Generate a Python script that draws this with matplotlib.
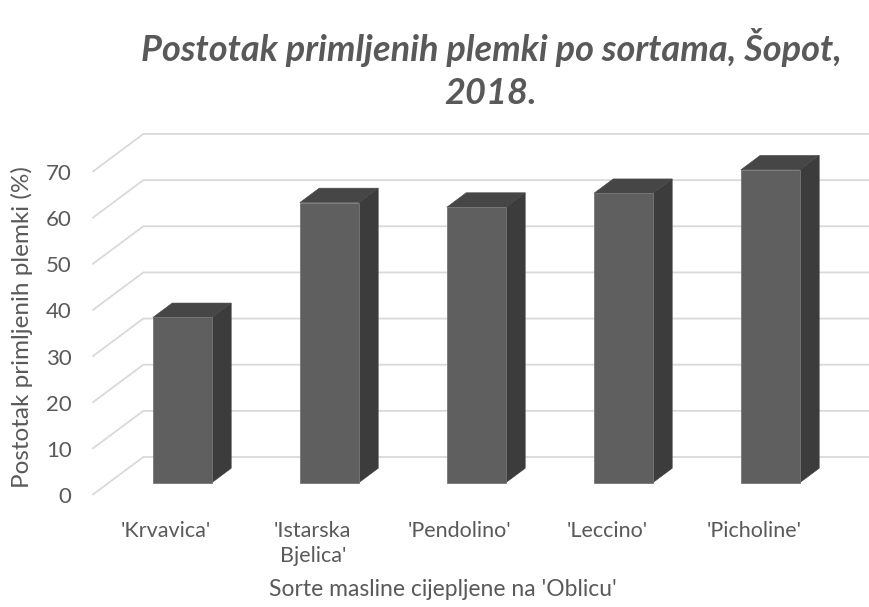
import matplotlib
matplotlib.use('Agg')
import matplotlib.pyplot as plt
from matplotlib.patches import Polygon

# ---- data ----
categories = ["'Krvavica'", "'Istarska\nBjelica'", "'Pendolino'", "'Leccino'", "'Picholine'"]
values = [35.8, 60.7, 59.7, 62.7, 67.8]
yticks = [0, 10, 20, 30, 40, 50, 60, 70]
title = "Postotak primljenih plemki po sortama, Šopot,\n2018."
xlabel = "Sorte masline cijepljene na 'Oblicu'"
ylabel = "Postotak primljenih plemki (%)"

# ---- style ----
plt.rcParams['font.family'] = ['Lato', 'DejaVu Sans']
TXT = '#595959'
GRID = '#d9d9d9'
FRONT = '#5f5f5f'
SIDE = '#3c3c3c'
TOP = '#464646'
EDGE = '#767676'

W, H = 870, 607
fig = plt.figure(figsize=(W / 100, H / 100), dpi=100)
fig.patch.set_facecolor('white')

# front plane of the 3D floor (pixels)
L, R, B, T = 92.3, 827.3, 495.0, 172.0
ax = fig.add_axes([L / W, 1 - B / H, (R - L) / W, (B - T) / H])
n = len(categories)
ax.set_xlim(-0.5, n - 0.5)
ax.set_ylim(0, 70)
ax.patch.set_alpha(0)
for s in ax.spines.values():
    s.set_visible(False)

px_x = (R - L) / n          # pixels per category
px_v = (B - T) / 70.0       # pixels per value unit
DX = 51.0 / px_x            # full depth offset, category units
DY = 38.0 / px_v            # full depth offset, value units
d0 = 0.324                  # bar front depth fraction
bd = 0.38                   # bar depth fraction
bw = 59.0 / px_x            # bar width, category units

# gridlines: diagonal on side wall + horizontal on back wall
for v in yticks:
    ax.plot([-0.5, -0.5 + DX, n - 0.5 + DX], [v, v + DY, v + DY],
            color=GRID, lw=1.3, clip_on=False, zorder=1,
            solid_joinstyle='miter', solid_capstyle='butt')

# 3D bars
for i, v in enumerate(values):
    xc = i + d0 * DX
    xl, xr = xc - bw / 2, xc + bw / 2
    y0 = d0 * DY
    yt = y0 + v
    ox, oy = bd * DX, bd * DY
    front = Polygon([(xl, y0), (xr, y0), (xr, yt), (xl, yt)], closed=True,
                    facecolor=FRONT, edgecolor=EDGE, lw=0.6, clip_on=False, zorder=3)
    side = Polygon([(xr, y0), (xr + ox, y0 + oy), (xr + ox, yt + oy), (xr, yt)], closed=True,
                   facecolor=SIDE, edgecolor=SIDE, lw=0.4, clip_on=False, zorder=3)
    top = Polygon([(xl, yt), (xr, yt), (xr + ox, yt + oy), (xl + ox, yt + oy)], closed=True,
                  facecolor=TOP, edgecolor=TOP, lw=0.4, clip_on=False, zorder=3)
    for p in (side, top, front):
        ax.add_patch(p)

ax.set_yticks(yticks)
ax.set_yticklabels([str(t) for t in yticks])
ax.set_xticks(range(n))
ax.set_xticklabels(categories, linespacing=1.3)
ax.tick_params(axis='y', length=0, pad=15, labelsize=16, labelcolor=TXT)
ax.tick_params(axis='x', length=0, pad=19, labelsize=15.5, labelcolor=TXT)

fig.text(22 / W, 1 - 327 / H, ylabel, rotation=90, ha='center', va='center',
         fontsize=17.5, color=TXT)
fig.text(443 / W, 1 - 589 / H, xlabel, ha='center', va='center',
         fontsize=16.5, color=TXT)
fig.text(491 / W, 1 - 69 / H, title, ha='center', va='center', fontsize=26,
         fontweight='bold', fontstyle='italic', color=TXT, linespacing=1.4)

fig.savefig('out.png', dpi=100, facecolor='white')
